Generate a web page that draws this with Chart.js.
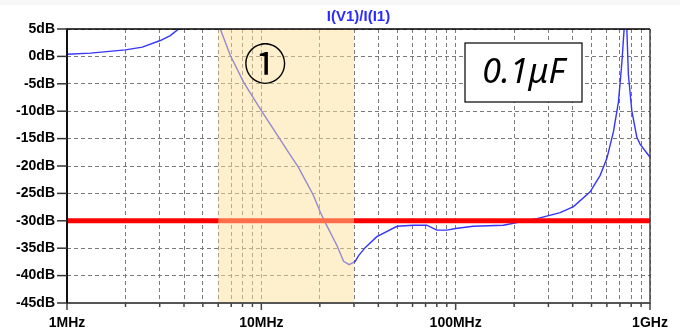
<!DOCTYPE html>
<html>
<head>
<meta charset="utf-8">
<script src="https://cdn.jsdelivr.net/npm/chart.js@4.4.0/dist/chart.umd.min.js"></script>
<style>
  html, body { margin: 0; padding: 0; background: #ffffff; }
  #wrap { width: 680px; height: 332px; position: relative; }
</style>
</head>
<body>
<div id="wrap"><canvas id="c" width="680" height="332"></canvas></div>
<script>
// ---- data (frequency in MHz, response in dB) ----
const chartTitle = 'I(V1)/I(I1)';
const freqMHz = [1, 1.32, 2, 2.44, 3.02, 3.4, 3.75, 4.3, 5.2, 5.8, 6.15, 6.92, 8.1, 10, 12.25, 13.8, 15.5, 18.5, 20.1, 21.3, 24.5, 26.5, 28.3, 30.4, 31.6, 34.2, 39.3, 49.9, 60.7, 71, 80, 90, 100, 123, 176, 262, 345, 404, 492, 554, 600, 649, 688, 716, 736, 748, 760, 774, 806, 855, 889, 1000];
const responseDB = [0.4, 0.6, 1.2, 1.7, 2.9, 3.8, 5.0, 8.0, 10.0, 7.2, 5.0, 0.2, -4.7, -9.9, -14.7, -17.5, -20.2, -25.3, -28.4, -30.3, -34.5, -37.4, -38.0, -37.4, -36.4, -34.9, -32.9, -31.0, -30.8, -30.8, -31.7, -31.7, -31.4, -31.0, -30.8, -29.6, -28.5, -27.4, -24.7, -21.7, -18.6, -13.7, -8.3, -1.3, 5.0, 12.0, 5.0, -3.3, -9.9, -14.7, -16.0, -18.4];
const limitFreqMHz = [1, 1000];
const limitDB = [-30, -30];
const bandMHz = [6, 30];
const bandLabel = '\u2460';
const boxLabel = '0.1\u03bcF';
const xGridValues = [1,2,3,4,5,6,7,8,9,10,20,30,40,50,60,70,80,90,100,200,300,400,500,600,700,800,900,1000];
const xTickValues = [1, 10, 100, 1000];
const xTickLabels = ['1MHz', '10MHz', '100MHz', '1GHz'];
const yTickValues = [5, 0, -5, -10, -15, -20, -25, -30, -35, -40, -45];
const yTickLabels = ['5dB', '0dB', '-5dB', '-10dB', '-15dB', '-20dB', '-25dB', '-30dB', '-35dB', '-40dB', '-45dB'];

const curve = freqMHz.map((f, i) => ({ x: f, y: responseDB[i] }));
const limit = limitFreqMHz.map((f, i) => ({ x: f, y: limitDB[i] }));

const decorPlugin = {
  id: 'decor',
  beforeDraw(chart) {
    const ctx = chart.ctx;
    ctx.save();
    ctx.fillStyle = '#f7f7f7';
    ctx.fillRect(0, 0, chart.width, 5);
    ctx.restore();
  },
  afterDatasetsDraw(chart) {
    const ctx = chart.ctx;
    const a = chart.chartArea;
    const xs = chart.scales.x, ys = chart.scales.y;
    ctx.save();
    // shaded band overlay
    const bx0 = xs.getPixelForValue(bandMHz[0]);
    const bx1 = xs.getPixelForValue(bandMHz[1]);
    ctx.fillStyle = 'rgba(253,224,153,0.49)';
    ctx.fillRect(bx0, a.top, bx1 - bx0, a.bottom - a.top);

    // frame
    ctx.lineCap = 'butt';
    ctx.strokeStyle = '#000';
    ctx.lineWidth = 1.5;
    ctx.beginPath(); ctx.moveTo(a.left, a.top); ctx.lineTo(a.right, a.top); ctx.stroke();
    ctx.strokeStyle = '#444';
    ctx.lineWidth = 1.5;
    ctx.beginPath(); ctx.moveTo(a.right, a.top); ctx.lineTo(a.right, a.bottom); ctx.stroke();
    ctx.strokeStyle = '#555';
    ctx.lineWidth = 2;
    ctx.beginPath(); ctx.moveTo(a.left, a.bottom); ctx.lineTo(a.right + 1, a.bottom); ctx.stroke();
    ctx.strokeStyle = '#111';
    ctx.lineWidth = 2;
    ctx.beginPath(); ctx.moveTo(a.left, a.top - 0.5); ctx.lineTo(a.left, a.bottom + 1); ctx.stroke();

    // tick marks
    ctx.lineWidth = 1.5;
    ctx.strokeStyle = '#333';
    yTickValues.forEach(v => {
      const y = ys.getPixelForValue(v);
      ctx.beginPath(); ctx.moveTo(a.left - 10, y); ctx.lineTo(a.left, y); ctx.stroke();
    });
    ctx.strokeStyle = '#444';
    xGridValues.forEach(v => {
      const x = xs.getPixelForValue(v);
      const len = xTickValues.includes(v) ? 7 : 4;
      ctx.beginPath(); ctx.moveTo(x, a.bottom); ctx.lineTo(x, a.bottom + len); ctx.stroke();
    });

    // circled label
    ctx.fillStyle = '#000';
    ctx.font = '43px "Noto Sans CJK JP"';
    ctx.textAlign = 'center';
    ctx.textBaseline = 'middle';
    ctx.fillText(bandLabel, xs.getPixelForValue(10.47), ys.getPixelForValue(-1.4));

    // text box
    const rx0 = 465, ry0 = 43, rw = 117, rh = 59;
    ctx.fillStyle = '#fff';
    ctx.fillRect(rx0, ry0, rw, rh);
    ctx.strokeStyle = '#000';
    ctx.lineWidth = 1.2;
    ctx.strokeRect(rx0, ry0, rw, rh);
    ctx.fillStyle = '#000';
    ctx.font = 'italic 34px "Noto Sans"';
    ctx.fillText(boxLabel, rx0 + rw / 2, ry0 + rh / 2 + 1);

    // title
    ctx.fillStyle = '#2b2bff';
    ctx.font = 'bold 15px "Liberation Sans"';
    ctx.fillText(chartTitle, (a.left + a.right) / 2, 17);
    ctx.restore();
  }
};

const tickFont = { family: '"Liberation Sans", Arial, sans-serif', size: 14, weight: 'bold' };

new Chart(document.getElementById('c'), {
  type: 'line',
  data: {
    datasets: [
      { data: curve, borderColor: '#3535ff', borderWidth: 1.4, pointRadius: 0, tension: 0, fill: false, order: 2 },
      { data: limit, borderColor: '#ff0000', borderWidth: 5, pointRadius: 0, tension: 0, fill: false, order: 1 }
    ]
  },
  options: {
    responsive: false,
    animation: false,
    layout: { padding: { top: 29, right: 30, left: 0, bottom: 0 } },
    plugins: { legend: { display: false }, tooltip: { enabled: false }, title: { display: false } },
    scales: {
      x: {
        type: 'logarithmic',
        min: 1, max: 1000,
        afterBuildTicks: s => { s.ticks = xGridValues.map(v => ({ value: v })); },
        afterFit: s => { s.height = 29; },
        ticks: {
          autoSkip: false, maxRotation: 0, minRotation: 0, padding: 12,
          color: '#000', font: tickFont,
          callback: v => { const i = xTickValues.indexOf(v); return i >= 0 ? xTickLabels[i] : ''; }
        },
        grid: { color: '#7a7a7a', lineWidth: 1, drawTicks: false },
        border: { display: false, dash: [4, 3] }
      },
      y: {
        min: -45, max: 5,
        afterBuildTicks: s => { s.ticks = yTickValues.map(v => ({ value: v })); },
        afterFit: s => { s.width = 67; },
        ticks: {
          padding: 12, color: '#000', font: tickFont,
          callback: v => { const i = yTickValues.indexOf(v); return i >= 0 ? yTickLabels[i] : ''; }
        },
        grid: { color: '#7a7a7a', lineWidth: 1, drawTicks: false },
        border: { display: false, dash: [4, 3] }
      }
    }
  },
  plugins: [decorPlugin]
});
</script>
</body>
</html>
